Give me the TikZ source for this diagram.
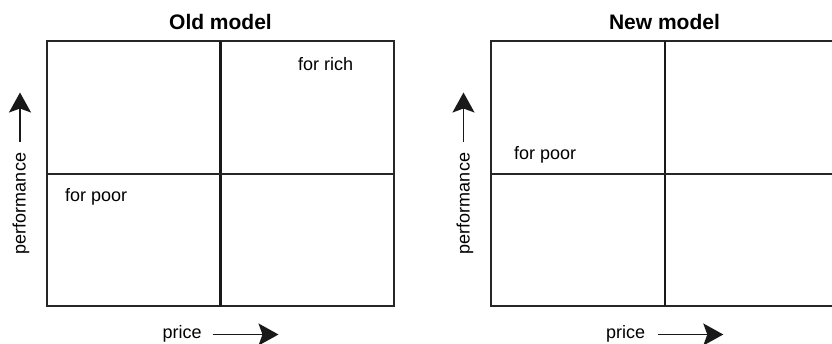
\documentclass[tikz,border=0pt]{standalone}
\usepackage{fontspec}
\setmainfont{Liberation Sans}
\usetikzlibrary{arrows.meta}

\tikzset{
	quadline/.style={line width=1.8pt, color=black!85},
	divline/.style={line width=2.6pt, color=black!90},
	axisarrow/.style={line width=1.6pt, color=black!90, -{Stealth[length=20pt, width=22pt, inset=4pt]}},
	lbl/.style={font=\fontsize{18}{20}\selectfont, inner sep=0pt},
	ttl/.style={font=\fontsize{21}{24}\selectfont\bfseries, inner sep=0pt}
}

\begin{document}
\begin{tikzpicture}[x=1pt, y=-1pt]
				\useasboundingbox (0,0) rectangle (832,344);
				\clip (0,0) rectangle (832,344);
				
				% old model
				\node[ttl, anchor=base] (oldtitle) at (220.5,29.5) {Old model};
				\draw[quadline] (46.7,41) rectangle (394,306);
				\draw[divline] (220.3,41) -- (220.3,306);
				\draw[quadline] (46.7,173.7) -- (394,173.7);
				
				\node[lbl, anchor=base west] (oldrich) at (298,71) {for rich};
				\node[lbl, anchor=base west] (oldpoor) at (65,201.5) {for poor};
				
				\node[lbl, rotate=90] (oldperf) at (21,203.5) {performance};
				\coordinate (oldupfrom) at (20,142);
				\coordinate (oldupto) at (20,92.5);
				\draw[axisarrow] (oldupfrom) -- (oldupto);
				
				\node[lbl, anchor=base west] (oldprice) at (162.5,338.5) {price};
				\coordinate (oldrightfrom) at (212.7,334.5);
				\coordinate (oldrightto) at (278.5,334.5);
				\draw[axisarrow] (oldrightfrom) -- (oldrightto);
				
				% new model
				\node[ttl, anchor=base] (newtitle) at (664.5,29.5) {New model};
				\draw[quadline] (491,41) rectangle (838.3,306);
				\draw[divline, line width=2pt] (665,41) -- (665,306);
				\draw[quadline] (491,173.7) -- (838.3,173.7);
				
				\node[lbl, anchor=base west] (newpoor) at (514,159.5) {for poor};
				
				\node[lbl, rotate=90] (newperf) at (465,203.5) {performance};
				\coordinate (newupfrom) at (463.5,142);
				\coordinate (newupto) at (463.5,92.5);
				\draw[axisarrow] (newupfrom) -- (newupto);
				
				\node[lbl, anchor=base west] (newprice) at (606,338.5) {price};
				\coordinate (newrightfrom) at (657.5,334.5);
				\coordinate (newrightto) at (723.3,334.5);
				\draw[axisarrow] (newrightfrom) -- (newrightto);
\end{tikzpicture}
\end{document}
